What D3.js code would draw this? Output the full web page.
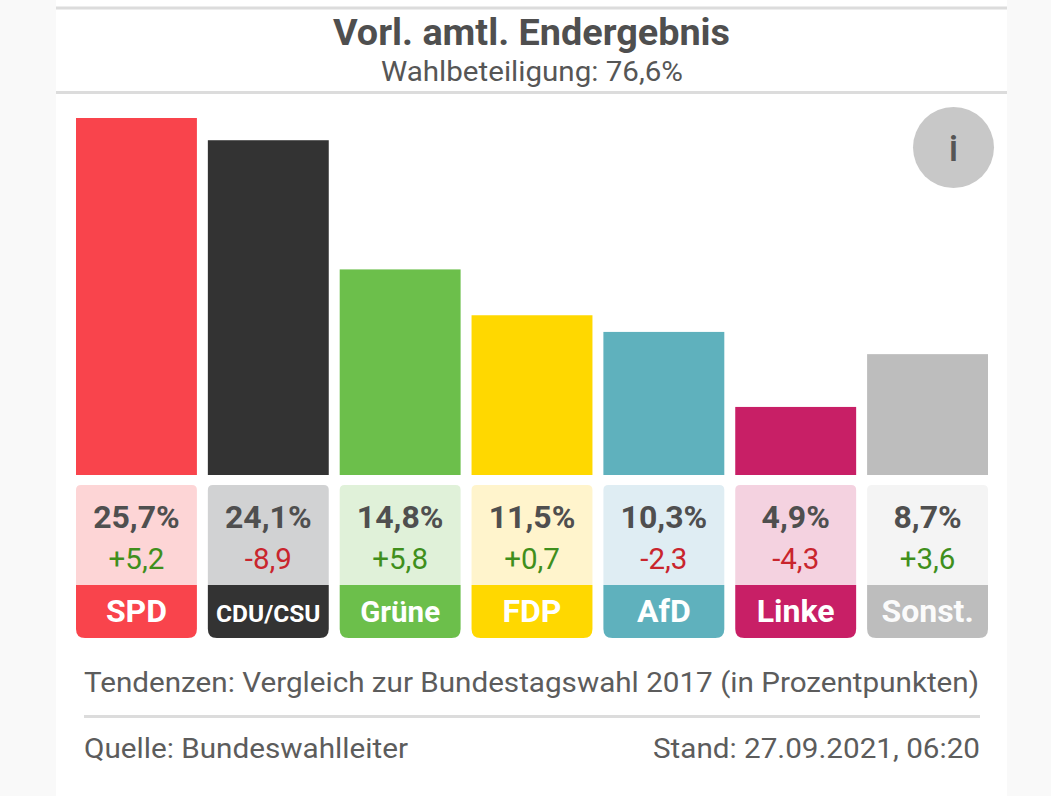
<!DOCTYPE html>
<html>
<head>
<meta charset="utf-8">
<script src="https://cdn.jsdelivr.net/npm/d3@7"></script>
<style>
html,body{margin:0;padding:0;background:#f9f9f9;overflow:hidden}
svg{display:block}
text{font-family:Roboto,sans-serif}
</style>
</head>
<body>
<svg id="c" width="1051" height="796"></svg>
<script>
const parties = ["SPD","CDU/CSU","Grüne","FDP","AfD","Linke","Sonst."];
const results = [25.7,24.1,14.8,11.5,10.3,4.9,8.7];
const changes = [5.2,-8.9,5.8,0.7,-2.3,-4.3,3.6];
const colors = ["#f9444c","#333333","#6cbf4b","#ffd800","#5fb1bd","#c81f66","#bdbdbd"];
const lightColors = ["#fdd5d6","#d1d2d3","#e0f1d9","#fff4cc","#dfedf3","#f4d2e0","#f4f4f4"];
const labelSizes = [32,24.5,29.5,32,32,32,32];
const title = "Vorl. amtl. Endergebnis";
const subtitle = "Wahlbeteiligung: 76,6%";
const note = "Tendenzen: Vergleich zur Bundestagswahl 2017 (in Prozentpunkten)";
const source = "Quelle: Bundeswahlleiter";
const stand = "Stand: 27.09.2021, 06:20";

const fmt = v => v.toFixed(1).replace(".", ",");
const fmtChange = v => (v > 0 ? "+" : "") + fmt(v);

const svg = d3.select("#c");
svg.append("rect").attr("x",56).attr("y",0).attr("width",951).attr("height",796).attr("fill","#fff");

[[8,56,1007],[92.5,56,1007],[716.5,84,980]].forEach(([y,a,b])=>{
  svg.append("line").attr("x1",a).attr("x2",b).attr("y1",y).attr("y2",y)
     .attr("stroke","#dcdcdc").attr("stroke-width",3);
});

const text = (s,x,y,size,weight,fill,anchor="middle",sel=svg) =>
  sel.append("text").text(s).attr("x",x).attr("y",y).attr("font-size",size)
     .attr("font-weight",weight).attr("fill",fill).attr("text-anchor",anchor);

text(title,531.5,45,36,700,"#4f4f4f").attr("textLength",397).attr("lengthAdjust","spacingAndGlyphs");
text(subtitle,532,81,27,400,"#565656").attr("textLength",302).attr("lengthAdjust","spacingAndGlyphs");

const x = d3.scaleBand().domain(parties).range([76,988]).paddingInner(0.083);
const y = d3.scaleLinear().domain([0,25.7]).range([475,118]);

svg.append("g").selectAll("rect").data(parties).join("rect")
  .attr("x",d=>x(d)).attr("width",x.bandwidth())
  .attr("y",(d,i)=>y(results[i])).attr("height",(d,i)=>y(0)-y(results[i]))
  .attr("fill",(d,i)=>colors[i]);

const topPath = (l,r,t,b,rad) => `M${l},${b}V${t+rad}Q${l},${t} ${l+rad},${t}H${r-rad}Q${r},${t} ${r},${t+rad}V${b}Z`;
const botPath = (l,r,t,b,rad) => `M${l},${t}H${r}V${b-rad}Q${r},${b} ${r-rad},${b}H${l+rad}Q${l},${b} ${l},${b-rad}Z`;

parties.forEach((p,i)=>{
  const l = x(p), r = l + x.bandwidth(), c = (l+r)/2;
  const g = svg.append("g");
  g.append("path").attr("d",topPath(l,r,485,585,5)).attr("fill",lightColors[i]);
  g.append("path").attr("d",botPath(l,r,585,638,9)).attr("fill",colors[i]);
  text(fmt(results[i])+"%",c,528,32,700,"#4f4f4f","middle",g);
  text(fmtChange(changes[i]),c,569,29.5,400,changes[i]>0?"#3f8f1c":"#c9252d","middle",g);
  text(p,c,622,labelSizes[i],700,"#fff","middle",g)
    .attr("opacity",p==="Sonst."?0.95:1);
});

svg.append("circle").attr("cx",953.5).attr("cy",147.5).attr("r",40.5).attr("fill","#c8c8c8");
text("i",953.5,161,37,500,"#555");

text(note,84,692,28.5,400,"#5c5c5c","start").attr("textLength",895).attr("lengthAdjust","spacingAndGlyphs");
text(source,84,758,28,400,"#5c5c5c","start").attr("textLength",324).attr("lengthAdjust","spacingAndGlyphs");
text(stand,980,758,28,400,"#5c5c5c","end").attr("textLength",327).attr("lengthAdjust","spacingAndGlyphs");
</script>
</body>
</html>
